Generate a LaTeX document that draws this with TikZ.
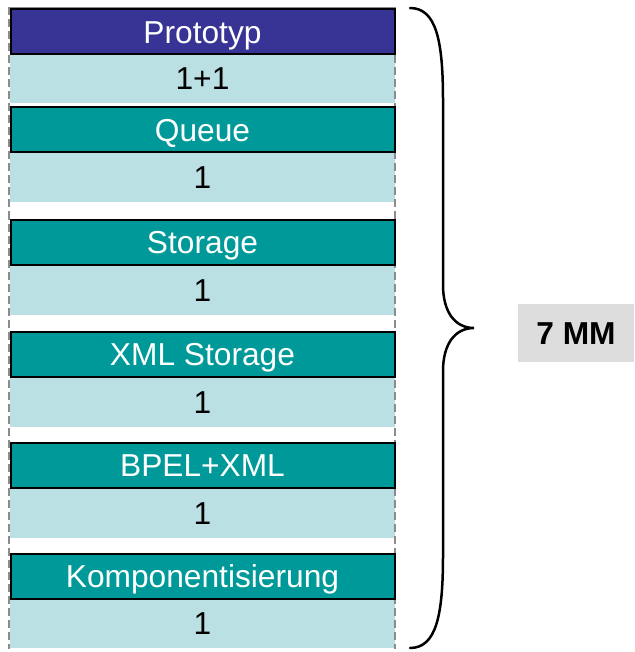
\documentclass[tikz,border=0pt]{standalone}
\usepackage{fontspec}
\setmainfont{Liberation Sans}
\definecolor{protoblue}{RGB}{55,52,150}
\definecolor{tealhead}{RGB}{0,153,153}
\definecolor{paleteal}{RGB}{187,224,227}
\definecolor{framegray}{RGB}{140,140,140}
\definecolor{labelgray}{RGB}{221,221,221}
\tikzset{
  txt/.style={font=\fontsize{31.7}{36}\selectfont, inner sep=0pt, text height=22.7pt, text depth=0pt},
  hdr/.style={txt, draw=black, line width=2pt, text=white, minimum width=384pt, minimum height=45pt},
  cnt/.style={txt, fill=paleteal, text=black, minimum width=385pt},
  frame/.style={draw=framegray, line width=2pt, dash pattern=on 8pt off 4pt},
  brace/.style={draw=black, line width=2.5pt, line cap=round},
}
\begin{document}
\begin{tikzpicture}[x=1pt,y=-1pt]
\useasboundingbox (0,0) rectangle (634,652);
% pale count rows
\node[cnt, minimum height=49pt] (c1) at (202.5,78.5) {1+1};
\node[cnt, minimum height=49pt] (c2) at (202.5,177.5) {1};
\node[cnt, minimum height=50pt] (c3) at (202.5,290) {1};
\node[cnt, minimum height=50pt] (c4) at (202.5,402) {1};
\node[cnt, minimum height=50pt] (c5) at (202.5,513) {1};
\node[cnt, minimum height=49pt] (c6) at (202.5,623.5) {1};
% group frame: solid top edge, dashed sides
\coordinate (ftl) at (9,7.5);
\coordinate (ftr) at (394.5,7.5);
\coordinate (fbl) at (9,649);
\coordinate (fbr) at (394.5,649);
\draw[draw=framegray, line width=1.5pt] (ftl) -- (ftr);
\draw[frame] (ftl) -- (fbl);
\draw[frame] (ftr) -- (fbr);
% component headers
\node[hdr, fill=protoblue] (h1) at (202.5,32) {Prototyp};
\node[hdr, fill=tealhead] (h2) at (202.5,130) {Queue};
\node[hdr, fill=tealhead] (h3) at (202.5,242) {Storage};
\node[hdr, fill=tealhead] (h4) at (202.5,354) {XML Storage};
\node[hdr, fill=tealhead] (h5) at (202.5,465) {BPEL+XML};
\node[hdr, fill=tealhead] (h6) at (202.5,576) {Komponentisierung};
% total label
\node[txt, fill=labelgray, minimum width=116pt, minimum height=58pt, font=\fontsize{31.7}{36}\selectfont\bfseries] (mm) at (576,333) {7 MM};
% curly brace
\coordinate (bt) at (410,8);
\coordinate (bb) at (410,648);
\coordinate (tip) at (474,328);
\draw[brace] (bt) .. controls (436,8) and (443,40) .. (443,100)
  -- (443,285) .. controls (443,312) and (455,328) .. (tip)
  .. controls (455,328) and (443,344) .. (443,371)
  -- (443,556) .. controls (443,616) and (436,648) .. (bb);
\end{tikzpicture}
\end{document}
